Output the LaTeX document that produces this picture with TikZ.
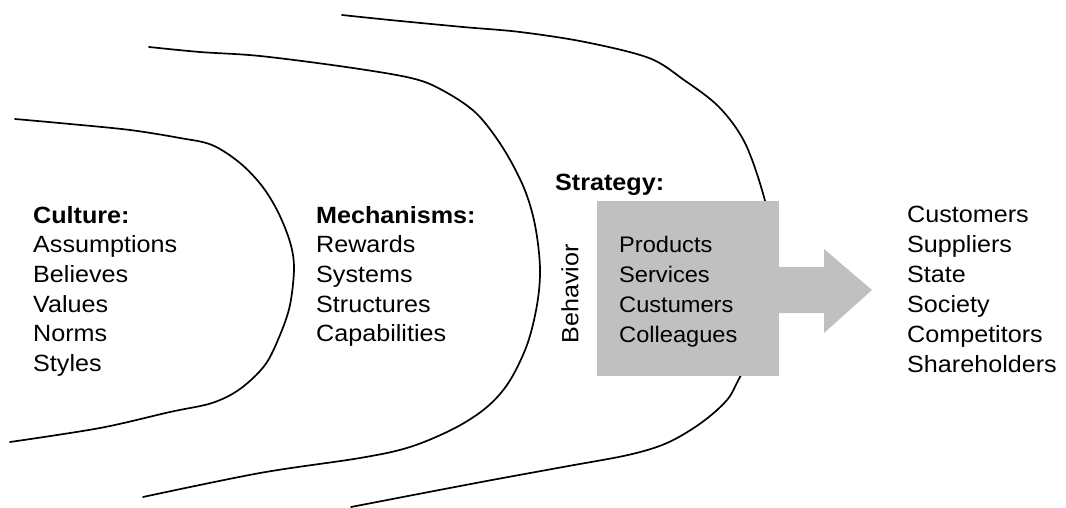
\documentclass[tikz,border=0pt]{standalone}
\usepackage{fontspec}
\setmainfont{Liberation Sans}
\definecolor{boxgray}{HTML}{C0C0C0}
\newcommand{\lstfont}{\fontsize{23.5}{29.7}\selectfont\addfontfeature{FakeStretch=1.07}}
\begin{document}
\begin{tikzpicture}[x=1pt,y=-1pt,
  curve/.style={line width=1.7pt, black, line cap=round, line join=round},
  lst/.style={anchor=base west, align=left, inner sep=0pt, font=\lstfont},
  hdr/.style={anchor=base west, inner sep=0pt, font=\lstfont\bfseries},
  graybox/.style={fill=boxgray, draw=none}]
\useasboundingbox (0,0) rectangle (1066,508);
% curves
\draw[curve] plot[smooth, tension=0.55] coordinates {(15,119) (70,124) (130,130) (180,138) (212,145) (240,163) (262,186) (278,212) (290,242) (294,268) (290,305) (280,335) (265,365) (240,389) (212,403) (170,412) (100,428) (10,442)};
\draw[curve] plot[smooth, tension=0.55] coordinates {(149,47) (200,52) (260,56) (346,67) (411,78) (442,90) (476,113) (503,148) (524,188) (535,225) (540,268) (537,305) (527,345) (509,382) (487,407) (455,428) (410,447) (360,458) (260,473) (143,497)};
\draw[curve] plot[smooth, tension=0.55] coordinates {(342,15) (390,20) (463,27) (520,32) (585,42) (649,58) (684,80) (719,107) (745,143) (764,197) (772,240) (774,285) (766,330) (740,377) (727,400) (701,423) (667,443) (628,455) (563,467) (476,483) (351,507)};
% box and arrow
\node[graybox, minimum width=182pt, minimum height=175pt, inner sep=0pt, anchor=north west] (box) at (597,201) {};
\coordinate (a1) at (778,267);
\fill[boxgray] (a1) -- (824,267) -- (824,249) -- (872,290) -- (824,333) -- (824,313) -- (778,313) -- cycle;
% texts (base anchor = baseline of the last line)
\node[lst] (culture) at (33,371.5) {\textbf{Culture:}\\Assumptions\\Believes\\Values\\Norms\\Styles};
\node[lst] (mech) at (316,341.8) {\textbf{Mechanisms:}\\Rewards\\Systems\\Structures\\Capabilities};
\node[hdr] (strategy) at (555,190) {Strategy:};
\node[inner sep=0pt, rotate=90, font=\lstfont] (behavior) at (570,294) {Behavior};
\node[lst, font=\fontsize{22.5}{30}\selectfont\addfontfeature{FakeStretch=1.05}] (prod) at (619,342) {Products\\Services\\Custumers\\Colleagues};
\node[lst, font=\fontsize{23.5}{30}\selectfont\addfontfeature{FakeStretch=1.07}] (stake) at (907,372) {Customers\\Suppliers\\State\\Society\\Competitors\\Shareholders};
\end{tikzpicture}
\end{document}
